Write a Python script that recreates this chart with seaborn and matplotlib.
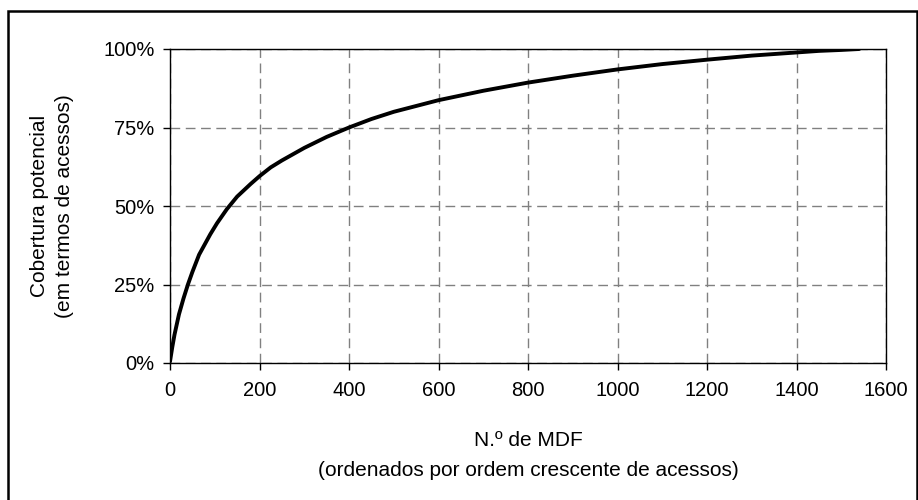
import pandas as pd
import matplotlib.pyplot as plt
import seaborn as sns
from matplotlib.patches import Rectangle
from matplotlib.ticker import PercentFormatter

# MDFs ordered by number of accesses vs cumulative coverage (%)
n_mdf = [0, 5, 10, 20, 30, 40, 50, 65, 90, 105, 127, 150, 180, 200, 225, 250,
         300, 350, 400, 450, 500, 600, 700, 800, 900, 1000, 1100, 1200, 1300,
         1400, 1450, 1500, 1540]
cobertura = [0.5, 5, 9, 15.5, 20.5, 25, 29, 34.5, 41, 44.5, 49, 53, 57,
             59.5, 62.3, 64.5, 68.5, 72, 75, 77.7, 80, 83.7, 86.7, 89.3, 91.5,
             93.5, 95.2, 96.6, 97.9, 98.9, 99.4, 99.7, 100]

x_ticks = [0, 200, 400, 600, 800, 1000, 1200, 1400, 1600]
y_ticks = [0, 25, 50, 75, 100]

df = pd.DataFrame({'mdf': n_mdf, 'cob': cobertura})

sns.set_theme(style='ticks')
plt.rcParams['font.family'] = ['Liberation Sans', 'DejaVu Sans']
plt.rcParams['text.color'] = 'black'
plt.rcParams['axes.labelcolor'] = 'black'
plt.rcParams['xtick.color'] = 'black'
plt.rcParams['ytick.color'] = 'black'

fig = plt.figure(figsize=(9.18, 5.0), dpi=100)
ax = fig.add_axes([0.1852, 0.274, 0.780, 0.628])

sns.lineplot(data=df, x='mdf', y='cob', ax=ax, color='black', linewidth=2.8)

ax.set_xlim(0, 1600)
ax.set_ylim(0, 100)
ax.set_xticks(x_ticks)
ax.set_yticks(y_ticks)
ax.yaxis.set_major_formatter(PercentFormatter(decimals=0))
ax.tick_params(labelsize=14.5, length=5, width=1, direction='out')
ax.tick_params(axis='x', pad=8)
ax.tick_params(axis='y', pad=6)

ax.grid(True, color='#808080', linestyle=(0, (7, 4)), linewidth=1)
for s in ax.spines.values():
    s.set_color('black')
    s.set_linewidth(1)
    s.set_visible(True)

ax.set_xlabel('N.º de MDF\n(ordenados por ordem crescente de acessos)',
              fontsize=15, linespacing=1.75, labelpad=22)
ax.set_ylabel('Cobertura potencial\n(em termos de acessos)',
              fontsize=15, linespacing=1.4, labelpad=21)

# outer frame like the original sheet chart
fig.patches.append(Rectangle((8 / 918, -0.1), 909 / 918, 1.1 - 11 / 500,
                             transform=fig.transFigure, fill=False,
                             edgecolor='black', linewidth=1.8))

fig.savefig('out.png', dpi=100, facecolor='white')
